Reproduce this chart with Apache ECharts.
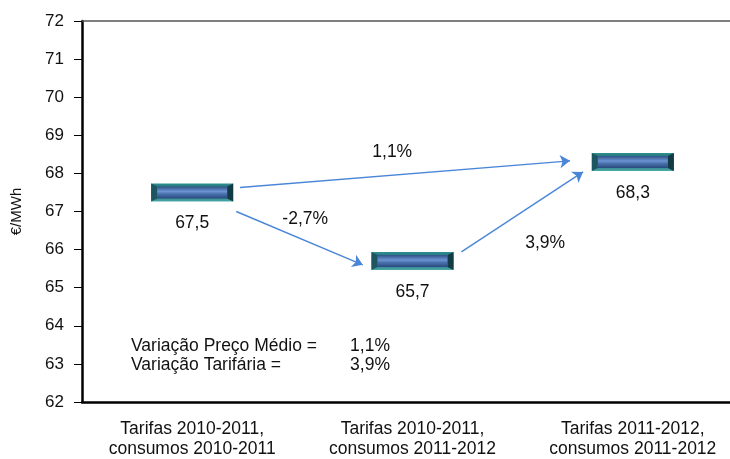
<!DOCTYPE html>
<html>
<head>
<meta charset="utf-8">
<script src="https://cdn.jsdelivr.net/npm/echarts@6/dist/echarts.min.js"></script>
<style>
  html, body { margin: 0; padding: 0; background: #fff; }
  #chart { width: 730px; height: 459px; }
</style>
</head>
<body>
<div id="chart"></div>
<script>
const categories = [
  'Tarifas 2010-2011,\nconsumos 2010-2011',
  'Tarifas 2010-2011,\nconsumos 2011-2012',
  'Tarifas 2011-2012,\nconsumos 2011-2012'
];
const values = [67.5, 65.7, 68.3];
const valueLabels = ['67,5', '65,7', '68,3'];
const arrowPairs = [[0, 2], [0, 1], [1, 2]];
const arrowLabels = ['1,1%', '-2,7%', '3,9%'];
const summaryNames = ['Variação Preço Médio =', 'Variação Tarifária ='];
const summaryValues = ['1,1%', '3,9%'];
const yMin = 62, yMax = 72, yStep = 1;

const font = 'Liberation Sans, Arial, sans-serif';
const fs = 17.5;

// where the arrows leave / reach each marker, in (category, €/MWh) units
const ends = {
  '0-2': [[0.217, 0.13], [-0.285, 0.03]],
  '0-1': [[0.2, -0.5], [-0.226, -0.1]],
  '1-2': [[0.222, 0.24], [-0.226, -0.26]]
};
const labelAt = {
  '0-2': [0.908, 68.56],
  '0-1': [0.513, 66.8],
  '1-2': [1.602, 66.17]
};

const arrowData = arrowPairs.map(([a, b]) => {
  const e = ends[a + '-' + b];
  return {
    coords: [
      [a + e[0][0], values[a] + e[0][1]],
      [b + e[1][0], values[b] + e[1][1]]
    ]
  };
});
const arrowText = arrowPairs.map(([a, b], i) => ({
  value: labelAt[a + '-' + b],
  label: { formatter: arrowLabels[i] }
}));

function renderMarker(params, api) {
  const p = api.coord([api.value(0), api.value(1)]);
  const w = 82, h = 18;
  const x = p[0] - w / 2, y = p[1] - h / 2;
  return {
    type: 'group',
    children: [
      {
        type: 'rect',
        shape: { x, y, width: w, height: h },
        style: {
          fill: new echarts.graphic.LinearGradient(0, 0, 0, 1, [
            { offset: 0, color: '#2f8f8f' },
            { offset: 0.5, color: '#1c5663' },
            { offset: 1, color: '#4aaaa8' }
          ])
        }
      },
      {
        type: 'polygon',
        shape: { points: [[x, y], [x + 6, y + 3], [x + 6, y + h - 3], [x, y + h]] },
        style: { fill: '#1d5561' }
      },
      {
        type: 'polygon',
        shape: { points: [[x + w, y], [x + w - 6, y + 3], [x + w - 6, y + h - 3], [x + w, y + h]] },
        style: { fill: '#133b46' }
      },
      {
        type: 'rect',
        shape: { x: x + 6, y: y + 3, width: w - 12, height: h - 6 },
        style: {
          fill: new echarts.graphic.LinearGradient(0, 0, 0, 1, [
            { offset: 0, color: '#2f5286' },
            { offset: 0.42, color: '#6c94d2' },
            { offset: 0.62, color: '#4a72ae' },
            { offset: 1, color: '#2a4a7e' }
          ])
        }
      },
      {
        type: 'text',
        style: {
          text: valueLabels[params.dataIndex],
          x: p[0], y: p[1] + 31,
          align: 'center', verticalAlign: 'middle',
          font: fs + 'px ' + font, fill: '#111'
        }
      }
    ]
  };
}

const chart = echarts.init(document.getElementById('chart'));
chart.setOption({
  animation: false,
  grid: { left: 82, right: -13, top: 21, bottom: 57, outerBoundsMode: 'none', containLabel: false },
  xAxis: [
    {
      type: 'category',
      data: categories,
      axisLine: { lineStyle: { color: '#000', width: 2.5 } },
      axisTick: { show: false },
      axisLabel: { color: '#111', fontFamily: font, fontSize: fs, lineHeight: 20, margin: 17 }
    },
    {
      type: 'value', min: -0.5, max: 2.5, position: 'top',
      axisLine: { show: true, onZero: false, lineStyle: { color: '#555', width: 1.5 } },
      axisTick: { show: false },
      axisLabel: { show: false },
      splitLine: { show: false }
    }
  ],
  yAxis: {
    type: 'value',
    min: yMin, max: yMax, interval: yStep,
    name: '€/MWh',
    nameLocation: 'middle',
    nameGap: 58,
    nameTextStyle: { color: '#111', fontFamily: font, fontSize: 15 },
    axisLine: { show: true, onZero: false, lineStyle: { color: '#000', width: 2.5 } },
    axisTick: { show: true, length: 8, lineStyle: { color: '#000' } },
    axisLabel: { color: '#111', fontFamily: font, fontSize: 17, margin: 18 },
    splitLine: { show: false }
  },
  series: [
    {
      type: 'lines',
      coordinateSystem: 'cartesian2d',
      xAxisIndex: 1,
      symbol: ['none', 'arrow'],
      symbolSize: 10,
      lineStyle: { color: '#4a86d8', width: 1.4, opacity: 1 },
      data: arrowData,
      z: 3
    },
    {
      type: 'scatter',
      xAxisIndex: 1,
      symbolSize: 0,
      itemStyle: { opacity: 1 },
      label: {
        show: true, position: 'inside',
        color: '#111', fontFamily: font, fontSize: fs
      },
      data: arrowText
    },
    {
      type: 'custom',
      xAxisIndex: 1,
      renderItem: renderMarker,
      data: values.map((v, i) => [i, v]),
      z: 4
    }
  ],
  graphic: summaryNames.map((t, i) => ({
    type: 'group',
    children: [
      {
        type: 'text', x: 131, y: 346 + i * 19,
        style: { text: t, font: fs + 'px ' + font, fill: '#111', verticalAlign: 'middle' }
      },
      {
        type: 'text', x: 370, y: 346 + i * 19,
        style: { text: summaryValues[i], font: fs + 'px ' + font, fill: '#111', align: 'center', verticalAlign: 'middle' }
      }
    ]
  }))
});
</script>
</body>
</html>
